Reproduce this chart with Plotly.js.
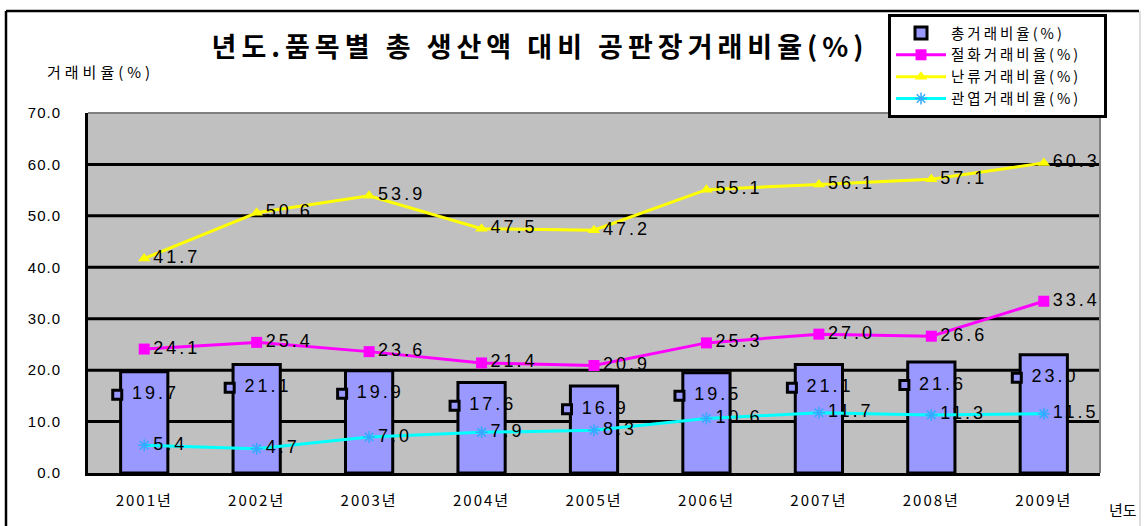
<!DOCTYPE html>
<html>
<head>
<meta charset="utf-8">
<script src="https://cdn.plot.ly/plotly-3.0.1.min.js"></script>
<style>
html,body{margin:0;padding:0;background:#fff;}
#chart{width:1144px;height:526px;}
#chart .gtitle{letter-spacing:5px;}
#chart .textpoint text{letter-spacing:3px;}
#chart .xtick text{letter-spacing:2px;}
#chart .ytick text{letter-spacing:1px;}
#chart .annotation[data-index="0"] text{letter-spacing:4px;}
#chart .legendtext{letter-spacing:3px;}
</style>
</head>
<body>
<div id="chart"></div>
<script>
// ---- data ----
const years = ['2001년','2002년','2003년','2004년','2005년','2006년','2007년','2008년','2009년'];
const totalRatio = [19.7, 21.1, 19.9, 17.6, 16.9, 19.5, 21.1, 21.6, 23.0];   // 총거래비율(%)
const cutRatio = [24.1, 25.4, 23.6, 21.4, 20.9, 25.3, 27.0, 26.6, 33.4];     // 절화거래비율(%)
const orchidRatio = [41.7, 50.6, 53.9, 47.5, 47.2, 55.1, 56.1, 57.1, 60.3];  // 난류거래비율(%)
const foliageRatio = [5.4, 4.7, 7.0, 7.9, 8.3, 10.6, 11.7, 11.3, 11.5];      // 관엽거래비율(%)
const seriesNames = ['총거래비율(%)', '절화거래비율(%)', '난류거래비율(%)', '관엽거래비율(%)'];
const yTickVals = [0, 10, 20, 30, 40, 50, 60, 70];
const gridVals = [10, 20, 30, 40, 50, 60];

const idx = years.map((_, i) => i);
const fmt = v => v.toFixed(1);
const FONT = 'Liberation Sans, Arial, "Noto Sans CJK KR", sans-serif';
const KFONT = '"Noto Sans CJK KR", "Liberation Sans", sans-serif';
const PAD = '\u2003\u2003\u2003\u2003';

const traces = [
  {
    type: 'bar', name: seriesNames[0] + PAD, x: idx, y: totalRatio, width: 0.42,
    marker: {color: '#9999ff', line: {color: '#000', width: 3}}, hoverinfo: 'skip'
  },
  {
    type: 'scatter', mode: 'lines+markers', name: seriesNames[1], x: idx, y: cutRatio,
    line: {color: '#ff00ff', width: 3}, marker: {symbol: 'square', size: 11, color: '#ff00ff'}, hoverinfo: 'skip'
  },
  {
    type: 'scatter', mode: 'lines+markers', name: seriesNames[2], x: idx, y: orchidRatio,
    line: {color: '#ffff00', width: 3}, marker: {symbol: 'triangle-up', size: 11, color: '#ffff00'}, hoverinfo: 'skip'
  },
  {
    type: 'scatter', mode: 'lines+markers', name: seriesNames[3], x: idx, y: foliageRatio,
    line: {color: '#00ffff', width: 3}, marker: {symbol: 'asterisk-open', size: 10, color: '#33aaff', line: {width: 1.5, color: '#33aaff'}}, hoverinfo: 'skip'
  },
  // bar value labels: legend-key squares + text
  {
    type: 'scatter', mode: 'markers', showlegend: false, hoverinfo: 'skip',
    x: idx.map(i => i - 0.24), y: totalRatio.map(v => v - 4.5),
    marker: {symbol: 'square', size: 9, color: '#9999ff', line: {color: '#000', width: 3}}
  },
  {
    type: 'scatter', mode: 'text', showlegend: false, hoverinfo: 'skip',
    x: idx.map(i => i + 0.1), y: totalRatio.map(v => v - 4.5),
    text: totalRatio.map(fmt), textposition: 'middle center',
    textfont: {family: FONT, size: 18, color: '#000'}
  },
  // line value labels
  ...[cutRatio, orchidRatio, foliageRatio].map(arr => ({
    type: 'scatter', mode: 'text', showlegend: false, hoverinfo: 'skip',
    x: idx.map(i => i + 0.08), y: arr, text: arr.map(fmt), textposition: 'middle right',
    textfont: {family: FONT, size: 18, color: '#000'}
  }))
];

const L = 88, R = 1100, T = 113, B = 473, W = 1144, H = 526;
const px = x => (x - L) / (R - L);
const py = y => (B - y) / (B - T);

const shapes = gridVals.map(v => ({
  type: 'line', xref: 'paper', yref: 'y', x0: 0, x1: 1, y0: v, y1: v,
  line: {color: '#000', width: 3}, layer: 'below'
}));
shapes.push(
  {type: 'line', xref: 'paper', yref: 'paper', x0: 0, x1: 1, y0: 1, y1: 1, line: {color: '#808080', width: 2}},
  {type: 'line', xref: 'paper', yref: 'paper', x0: 1, x1: 1, y0: 0, y1: 1, line: {color: '#808080', width: 2}},
  // outer frame
  {type: 'line', xref: 'paper', yref: 'paper', x0: px(6), x1: px(6), y0: py(11), y1: py(530), line: {color: '#000', width: 2.5}},
  {type: 'line', xref: 'paper', yref: 'paper', x0: px(6), x1: px(1139), y0: py(11), y1: py(11), line: {color: '#000', width: 2.5}},
  {type: 'line', xref: 'paper', yref: 'paper', x0: px(1140), x1: px(1140), y0: py(11), y1: py(530), line: {color: '#bbbbbb', width: 1}}
);

const layout = {
  width: W, height: H,
  margin: {l: L, r: W - R, t: T, b: H - B, pad: 0},
  paper_bgcolor: '#ffffff', plot_bgcolor: '#c0c0c0',
  font: {family: FONT, color: '#000'},
  title: {
    text: '<b>년도.품목별 총 생산액 대비 공판장거래비율(%)</b>',
    font: {family: KFONT, size: 27, color: '#000'},
    xref: 'paper', x: px(540), xanchor: 'center', yref: 'container', y: 1 - 48 / H, yanchor: 'middle'
  },
  xaxis: {
    range: [-0.5, 8.5], tickvals: idx, ticktext: years, showgrid: false, zeroline: false,
    showline: true, linecolor: '#000', linewidth: 3, ticks: '',
    tickfont: {family: KFONT, size: 15, color: '#000'}, ticklabelstandoff: 12, fixedrange: true
  },
  yaxis: {
    range: [0, 70], tickvals: yTickVals, tickformat: '.1f', showgrid: false, zeroline: false,
    showline: true, linecolor: '#000', linewidth: 3, ticks: '',
    tickfont: {family: FONT, size: 15, color: '#000'}, ticklabelstandoff: 21, fixedrange: true
  },
  shapes: shapes,
  annotations: [
    {xref: 'paper', yref: 'paper', x: px(100), y: py(72), text: '거래비율(%)', showarrow: false,
     font: {family: KFONT, size: 15, color: '#000'}, xanchor: 'center', yanchor: 'middle'},
    {xref: 'paper', yref: 'paper', x: px(1123), y: py(509), text: '년도', showarrow: false,
     font: {family: KFONT, size: 15, color: '#000'}, xanchor: 'center', yanchor: 'middle'}
  ],
  legend: {
    x: px(888), y: py(14), xanchor: 'left', yanchor: 'top', xref: 'paper', yref: 'paper',
    bgcolor: '#ffffff', bordercolor: '#000', borderwidth: 3,
    font: {family: KFONT, size: 14.5, color: '#000'}, tracegroupgap: 0, itemwidth: 50,
    traceorder: 'normal'
  },
  showlegend: true,
  bargap: 0.58
};

Plotly.newPlot('chart', traces, layout, {displayModeBar: false, staticPlot: true});
</script>
</body>
</html>
